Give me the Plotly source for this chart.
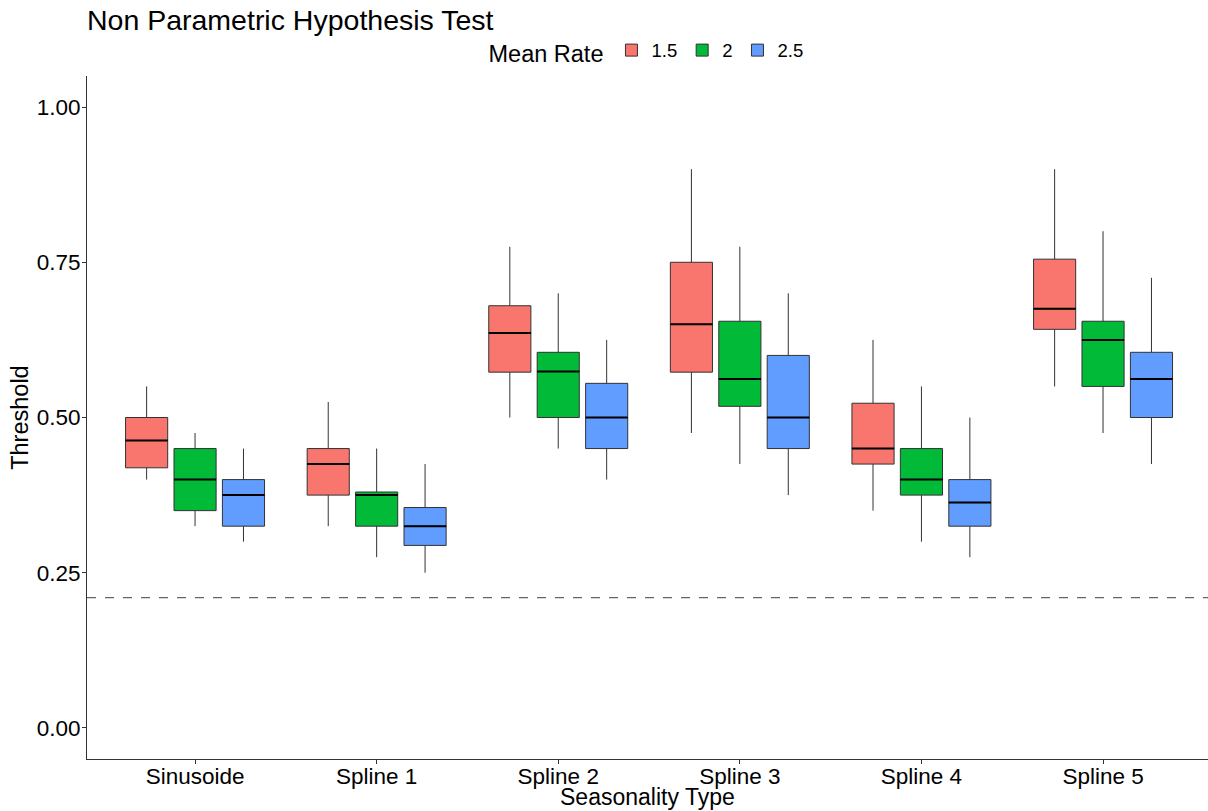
import plotly.graph_objects as go

# Seasonality types on the x axis and the three mean-rate groups
categories = ["Sinusoide", "Spline 1", "Spline 2", "Spline 3", "Spline 4", "Spline 5"]
mean_rates = ["1.5", "2", "2.5"]
colors = ["#F8766D", "#00BA38", "#619CFF"]

# Box statistics per mean rate, one value per seasonality type
lower_15 = [0.400, 0.325, 0.500, 0.475, 0.350, 0.550]
q1_15 = [0.419, 0.375, 0.573, 0.573, 0.425, 0.642]
median_15 = [0.463, 0.425, 0.636, 0.650, 0.450, 0.675]
q3_15 = [0.500, 0.450, 0.680, 0.750, 0.523, 0.755]
upper_15 = [0.550, 0.525, 0.775, 0.900, 0.625, 0.900]

lower_2 = [0.325, 0.275, 0.450, 0.425, 0.300, 0.475]
q1_2 = [0.350, 0.325, 0.500, 0.518, 0.375, 0.550]
median_2 = [0.400, 0.375, 0.574, 0.562, 0.400, 0.625]
q3_2 = [0.450, 0.380, 0.605, 0.655, 0.450, 0.655]
upper_2 = [0.475, 0.450, 0.700, 0.775, 0.550, 0.800]

lower_25 = [0.300, 0.250, 0.400, 0.375, 0.275, 0.425]
q1_25 = [0.325, 0.294, 0.450, 0.450, 0.325, 0.500]
median_25 = [0.375, 0.325, 0.500, 0.500, 0.363, 0.562]
q3_25 = [0.400, 0.355, 0.555, 0.600, 0.400, 0.605]
upper_25 = [0.450, 0.425, 0.625, 0.700, 0.500, 0.725]

# Reference threshold line
threshold_ref = 0.21

stats = [
    (lower_15, q1_15, median_15, q3_15, upper_15),
    (lower_2, q1_2, median_2, q3_2, upper_2),
    (lower_25, q1_25, median_25, q3_25, upper_25),
]

dodge = 0.8 / 3          # slot width of each rate inside a category
box_w = dodge * 0.87     # drawn box width

fig = go.Figure()
med_x, med_y = [], []
for j, (rate, col, (lo, q1, med, q3, hi)) in enumerate(zip(mean_rates, colors, stats)):
    xs = [i + (j - 1) * dodge for i in range(len(categories))]
    fig.add_trace(go.Box(
        name=rate, x=xs, q1=q1, median=med, q3=q3,
        lowerfence=lo, upperfence=hi,
        width=box_w, whiskerwidth=0,
        fillcolor=col, line=dict(color="#333333", width=1),
        boxpoints=False, legendgroup=rate,
    ))
    for x, m in zip(xs, med):
        med_x += [x - box_w / 2, x + box_w / 2, None]
        med_y += [m, m, None]

# thicker median bars
fig.add_trace(go.Scatter(
    x=med_x, y=med_y, mode="lines",
    line=dict(color="black", width=2),
    showlegend=False, hoverinfo="skip",
))

fig.add_shape(
    type="line", xref="paper", x0=0, x1=1, yref="y", y0=threshold_ref, y1=threshold_ref,
    line=dict(color="#666666", width=1.2, dash="dash"),
)

FONT = "Liberation Sans, Arial, sans-serif"
axis_font = dict(family=FONT, size=22.5, color="black")

# axis titles placed as annotations for tight positioning
fig.add_annotation(text="Seasonality Type", xref="paper", yref="paper",
                   x=0.5, y=-0.034, xanchor="center", yanchor="top", showarrow=False,
                   font=dict(family=FONT, size=23, color="black"))
fig.add_annotation(text="Threshold", xref="paper", yref="paper",
                   x=-0.047, y=0.5, xanchor="right", yanchor="middle", textangle=-90,
                   showarrow=False, font=dict(family=FONT, size=23.5, color="black"))

fig.update_layout(
    width=1208, height=811,
    margin=dict(l=87, r=0, t=76, b=52),
    paper_bgcolor="white", plot_bgcolor="white",
    font=dict(family=FONT, color="black"),
    boxmode="overlay",
    title=dict(text="Non Parametric Hypothesis Test", x=0.072, xanchor="left",
               y=0.975, yanchor="middle",
               font=dict(size=28.5, color="black")),
    legend=dict(
        orientation="h", x=0.5, xanchor="center", y=1.005, yanchor="bottom",
        title=dict(text="Mean Rate", font=dict(size=23.5)),
        font=dict(size=18.5), itemwidth=30,
    ),
    showlegend=True,
)
fig.update_xaxes(
    range=[-0.595, 5.578], tickvals=list(range(len(categories))), ticktext=categories,
    showgrid=False, zeroline=False, showline=True, linecolor="#333333", linewidth=1,
    ticks="outside", ticklen=4, tickcolor="#333333", tickfont=axis_font,
    ticklabelstandoff=-7, automargin=False,
)
fig.update_yaxes(
    range=[-0.05, 1.05], tickvals=[0, 0.25, 0.5, 0.75, 1.0], tickformat=".2f",
    showgrid=False, zeroline=False, showline=True, linecolor="#333333", linewidth=1,
    ticks="outside", ticklen=4, tickcolor="#333333", tickfont=axis_font,
    ticklabelstandoff=-3, automargin=False,
)

fig.write_html("out.html")
